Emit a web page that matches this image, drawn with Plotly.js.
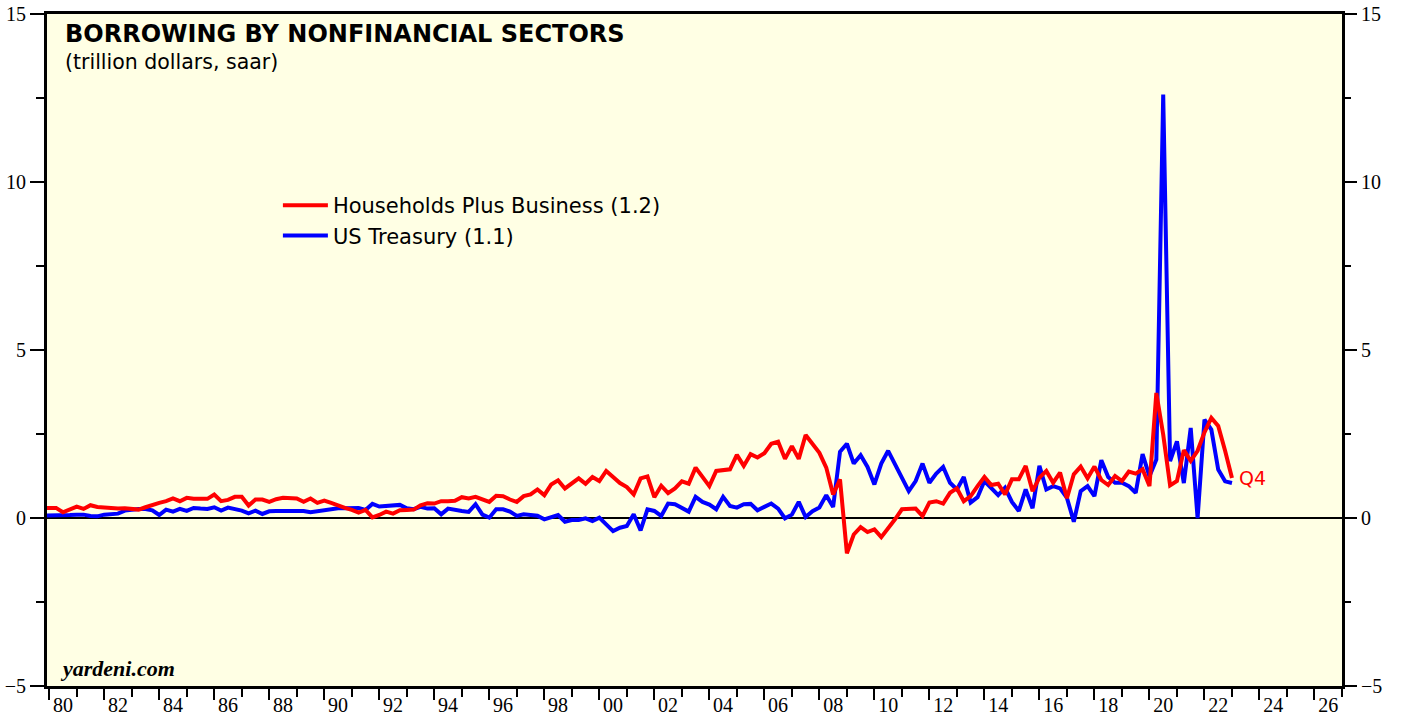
<!DOCTYPE html>
<html>
<head>
<meta charset="utf-8">
<script src="https://cdn.plot.ly/plotly-3.0.1.min.js"></script>
<style>
html,body{margin:0;padding:0;background:#ffffff;}
#chart{width:1403px;height:719px;}
</style>
</head>
<body>
<div id="chart"></div>
<script>
// Quarterly data, first observation 1979 Q3, last 2022 Q4 (plotted at quarter end)
const firstYear = 1979;
const firstQuarter = 3;

// Households Plus Business borrowing (trillion dollars, saar)
const householdsBusiness = [
  0.30, 0.31,
  0.30, 0.17, 0.24, 0.34,   // 1980
  0.27, 0.38, 0.33, 0.31,   // 1981
  0.30, 0.28, 0.29, 0.27,   // 1982
  0.25, 0.32, 0.40, 0.45,   // 1983
  0.50, 0.58, 0.50, 0.60,   // 1984
  0.57, 0.56, 0.57, 0.70,   // 1985
  0.50, 0.54, 0.63, 0.63,   // 1986
  0.37, 0.55, 0.55, 0.48,   // 1987
  0.56, 0.60, 0.60, 0.58,   // 1988
  0.48, 0.58, 0.45, 0.52,   // 1989
  0.45, 0.36, 0.30, 0.24,   // 1990
  0.16, 0.24, 0.02, 0.09,   // 1991
  0.19, 0.13, 0.23, 0.24,   // 1992
  0.25, 0.38, 0.44, 0.43,   // 1993
  0.50, 0.50, 0.51, 0.62,   // 1994
  0.58, 0.63, 0.55, 0.48,   // 1995
  0.66, 0.65, 0.55, 0.48,   // 1996
  0.65, 0.70, 0.85, 0.68,   // 1997
  1.00, 1.12, 0.88, 1.02,   // 1998
  1.18, 1.02, 1.22, 1.10,   // 1999
  1.40, 1.22, 1.04, 0.92,   // 2000
  0.70, 1.18, 1.24, 0.62,   // 2001
  0.96, 0.74, 0.88, 1.09,   // 2002
  1.02, 1.50, 1.20, 0.95,   // 2003
  1.40, 1.42, 1.45, 1.88,   // 2004
  1.55, 1.90, 1.80, 1.93,   // 2005
  2.21, 2.27, 1.76, 2.14,   // 2006
  1.76, 2.47, 2.19, 1.94,   // 2007
  1.50, 0.70, 1.15, -1.05,  // 2008
  -0.49, -0.27, -0.42, -0.34, // 2009
  -0.57, -0.32, -0.04, 0.26,  // 2010
  0.26, 0.28, 0.06, 0.46,   // 2011
  0.50, 0.43, 0.75, 0.88,   // 2012
  0.50, 0.65, 0.95, 1.22,   // 2013
  0.98, 1.02, 0.70, 1.15,   // 2014
  1.15, 1.55, 0.80, 1.20,   // 2015
  1.40, 1.05, 1.35, 0.59,   // 2016
  1.30, 1.53, 1.18, 1.53,   // 2017
  1.13, 0.98, 1.25, 1.10,   // 2018
  1.38, 1.32, 1.45, 0.95,   // 2019
  3.72, 2.48, 0.97, 1.10,   // 2020
  2.02, 1.70, 2.00, 2.55,   // 2021
  2.98, 2.74, 2.00, 1.19    // 2022
];

// US Treasury borrowing (trillion dollars, saar)
const usTreasury = [
  0.07, 0.07,
  0.07, 0.08, 0.09, 0.10,   // 1980
  0.10, 0.06, 0.05, 0.10,   // 1981
  0.12, 0.13, 0.22, 0.25,   // 1982
  0.27, 0.27, 0.23, 0.09,   // 1983
  0.25, 0.19, 0.27, 0.21,   // 1984
  0.30, 0.28, 0.27, 0.32,   // 1985
  0.22, 0.31, 0.27, 0.22,   // 1986
  0.14, 0.22, 0.12, 0.20,   // 1987
  0.21, 0.21, 0.21, 0.21,   // 1988
  0.21, 0.17, 0.20, 0.24,   // 1989
  0.29, 0.29, 0.29, 0.30,   // 1990
  0.30, 0.24, 0.42, 0.34,   // 1991
  0.36, 0.36, 0.39, 0.29,   // 1992
  0.26, 0.33, 0.28, 0.29,   // 1993
  0.11, 0.28, 0.23, 0.21,   // 1994
  0.18, 0.41, 0.10, 0.01,   // 1995
  0.26, 0.26, 0.19, 0.06,   // 1996
  0.11, 0.10, 0.07, -0.04,  // 1997
  0.01, 0.09, -0.11, -0.06, // 1998
  -0.06, -0.01, -0.09, 0.01, // 1999
  -0.19, -0.39, -0.29, -0.24, // 2000
  0.11, -0.37, 0.26, 0.21,  // 2001
  0.06, 0.43, 0.41, 0.30,   // 2002
  0.19, 0.63, 0.48, 0.40,   // 2003
  0.26, 0.63, 0.36, 0.31,   // 2004
  0.41, 0.42, 0.23, 0.33,   // 2005
  0.43, 0.28, -0.01, 0.10,  // 2006
  0.48, 0.03, 0.20, 0.31,   // 2007
  0.68, 0.33, 1.97, 2.21,   // 2008
  1.62, 1.87, 1.52, 1.00,   // 2009
  1.62, 2.00, 1.62, 1.20,   // 2010
  0.80, 1.10, 1.62, 1.05,   // 2011
  1.32, 1.52, 1.05, 0.85,   // 2012
  1.22, 0.46, 0.62, 1.10,   // 2013
  0.90, 0.68, 0.90, 0.48,   // 2014
  0.21, 0.85, 0.29, 1.55,   // 2015
  0.85, 0.95, 0.88, 0.60,   // 2016
  -0.11, 0.80, 0.95, 0.65,  // 2017
  1.72, 1.22, 1.05, 1.05,   // 2018
  0.95, 0.75, 1.90, 1.24,   // 2019
  1.74, 12.60, 1.69, 2.28,  // 2020
  1.04, 2.68, 0.00, 2.93,   // 2021
  2.63, 1.44, 1.09, 1.04    // 2022
];

const seriesNames = ["Households Plus Business (1.2)", "US Treasury (1.1)"];
const lastLabel = "Q4";

const yearLabelPositions = [];
const yearLabels = [];
for (let y = 1980; y <= 2026; y += 2) {
  yearLabelPositions.push(y + 0.5);
  yearLabels.push(String(y % 100).padStart(2, "0"));
}
const yTickValues = [-5, 0, 5, 10, 15];

// quarter-end dates as decimal years
const dates = householdsBusiness.map((_, i) => {
  const q = firstQuarter - 1 + i;
  const year = firstYear + Math.floor(q / 4);
  const qq = (q % 4) + 1;
  return year + qq / 4;
});

const xRange = [1979.92, 2027.0];
const yRange = [-5, 15];

const serifFont = "Liberation Serif, Times New Roman, serif";
const sansFont = "DejaVu Sans, Arial, sans-serif";

const traces = [
  {
    x: dates, y: usTreasury, type: "scatter", mode: "lines",
    name: seriesNames[1], legendrank: 2,
    line: {color: "#0000ff", width: 4}, hoverinfo: "skip"
  },
  {
    x: dates, y: householdsBusiness, type: "scatter", mode: "lines",
    name: seriesNames[0], legendrank: 1,
    line: {color: "#ff0000", width: 4}, hoverinfo: "skip"
  },
  {x: [], y: [], xaxis: "x2", yaxis: "y", showlegend: false},
  {x: [], y: [], xaxis: "x", yaxis: "y2", showlegend: false}
];

const layout = {
  width: 1403, height: 719,
  margin: {l: 47, r: 61, t: 14, b: 33, pad: 0},
  paper_bgcolor: "#ffffff",
  plot_bgcolor: "#ffffe4",
  showlegend: true,
  legend: {
    x: 0.1783, y: 0.7454, xanchor: "left", yanchor: "top",
    bgcolor: "rgba(0,0,0,0)", borderwidth: 0,
    itemwidth: 45,
    font: {family: sansFont, size: 21, color: "#000"},
    traceorder: "normal"
  },
  xaxis: {
    range: xRange, type: "linear", fixedrange: true,
    showgrid: false, zeroline: false,
    showline: true, linecolor: "#000", linewidth: 3, mirror: true,
    tickmode: "linear", tick0: 1980, dtick: 2,
    ticks: "outside", ticklen: 11, tickwidth: 2, tickcolor: "#000",
    showticklabels: false,
    minor: {tickmode: "linear", tick0: 1980, dtick: 1, ticks: "outside", ticklen: 8, tickwidth: 2, tickcolor: "#000", showgrid: false}
  },
  xaxis2: {
    overlaying: "x", anchor: "y", side: "bottom",
    range: xRange, type: "linear", fixedrange: true,
    showgrid: false, zeroline: false, showline: false,
    tickmode: "array", tickvals: yearLabelPositions, ticktext: yearLabels,
    ticks: "", ticklabelstandoff: 5,
    tickfont: {family: serifFont, size: 20, color: "#000"}
  },
  yaxis: {
    range: yRange, fixedrange: true,
    showgrid: false,
    zeroline: true, zerolinecolor: "#000", zerolinewidth: 1.2,
    showline: true, linecolor: "#000", linewidth: 3, mirror: true,
    tickmode: "array", tickvals: yTickValues,
    ticks: "outside", ticklen: 14, tickwidth: 1.5, tickcolor: "#000",
    minor: {tickmode: "linear", tick0: -5, dtick: 2.5, ticks: "outside", ticklen: 8, tickwidth: 1.5, tickcolor: "#000", showgrid: false},
    tickfont: {family: serifFont, size: 20, color: "#000"}
  },
  yaxis2: {
    overlaying: "y", anchor: "x", side: "right",
    range: yRange, fixedrange: true,
    showgrid: false, zeroline: false, showline: false,
    tickmode: "array", tickvals: yTickValues,
    ticks: "outside", ticklen: 14, tickwidth: 1.5, tickcolor: "#000",
    minor: {tickmode: "linear", tick0: -5, dtick: 2.5, ticks: "outside", ticklen: 8, tickwidth: 1.5, tickcolor: "#000", showgrid: false},
    tickfont: {family: serifFont, size: 20, color: "#000"}
  },
  annotations: [
    {
      text: "<b>BORROWING BY NONFINANCIAL SECTORS</b>",
      xref: "paper", yref: "paper", x: 0.0124, y: 0.9695,
      xanchor: "left", yanchor: "middle", showarrow: false,
      font: {family: sansFont, size: 24, color: "#000"}
    },
    {
      text: "(trillion dollars, saar)",
      xref: "paper", yref: "paper", x: 0.0124, y: 0.928,
      xanchor: "left", yanchor: "middle", showarrow: false,
      font: {family: sansFont, size: 20.5, color: "#000"}
    },
    {
      text: "<b><i>yardeni.com</i></b>",
      xref: "paper", yref: "paper", x: 0.0085, y: 0.0255,
      xanchor: "left", yanchor: "middle", showarrow: false,
      font: {family: serifFont, size: 22, color: "#000"}
    },
    {
      text: lastLabel,
      xref: "x", yref: "y",
      x: dates[dates.length - 1], y: householdsBusiness[householdsBusiness.length - 1],
      xanchor: "left", yanchor: "middle", xshift: 5, showarrow: false,
      font: {family: sansFont, size: 19, color: "#ff0000"}
    }
  ]
};

Plotly.newPlot("chart", traces, layout, {staticPlot: true, displayModeBar: false});
</script>
</body>
</html>
